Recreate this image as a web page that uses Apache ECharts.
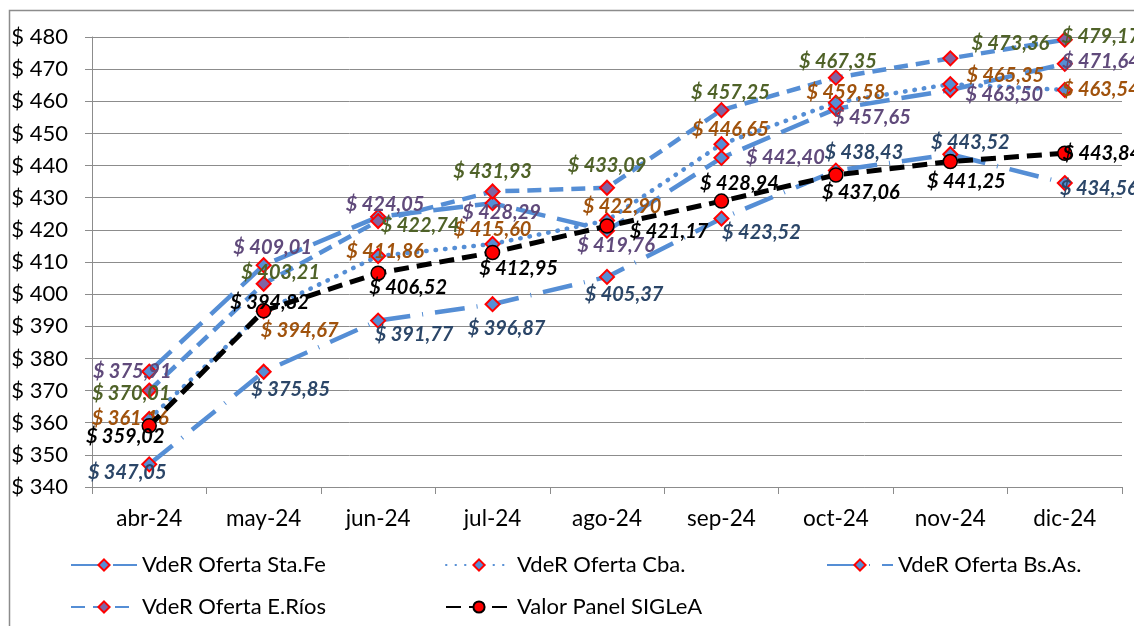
<!DOCTYPE html>
<html>
<head>
<meta charset="utf-8">
<script src="https://cdn.jsdelivr.net/npm/echarts@6/dist/echarts.min.js"></script>
<style>
    html, body { margin: 0; padding: 0; background: #fff; }
    #container { width: 1134px; height: 626px; }
</style>
</head>
<body>
<div id="container"></div>
<script>
// datos
var months = ['abr-24', 'may-24', 'jun-24', 'jul-24', 'ago-24', 'sep-24', 'oct-24', 'nov-24', 'dic-24']
var yTicks = [340, 480, 10]

var staFe = [375.91, 409.01, 424.05, 428.29, 419.76, 442.40, 457.65, 463.50, 471.64]
var cba = [361.16, 394.67, 411.86, 415.60, 422.90, 446.65, 459.58, 465.35, 463.54]
var bsAs = [347.05, 375.85, 391.77, 396.87, 405.37, 423.52, 438.43, 443.52, 434.56]
var eRios = [370.01, 403.21, 422.74, 431.93, 433.09, 457.25, 467.35, 473.36, 479.17]
var siglea = [359.02, 394.82, 406.52, 412.95, 421.17, 428.94, 437.06, 441.25, 443.84]

// donde va cada etiqueta (centro, relativo al punto)
var offStaFe = [[-17, 0], [9, -18], [7, -12], [9, 9], [9, 15], [64, 0], [36, 9], [54, 5], [36, -2]]
var offCba = [[-19, 0], [36, 19], [7, -4], [0, -14], [15, -14], [9, -15], [10, -10], [55, -9], [36, 0]]
var offBsAs = [[-22, 8], [27, 18], [36, 14], [14, 24], [17, 18], [40, 14], [28, -18], [20, -12], [34, 5]]
var offERios = [[-18, 3], [17, -11], [42, 4], [0, -20], [0, -22], [9, -18], [2, -16], [60, -15], [36, -3]]
var offSiglea = [[-24, 11], [6, -8], [30, 14], [26, 16], [62, 5], [18, -18], [25, 18], [16, 20], [37, 0]]

const fmtPeso = function (v) {
    return '$ ' + Number(v).toFixed(2).replace('.', ',')
}

const makeSeries = function (name, values, offsets, cfg) {
    var data = []
    for (let i = 0; i < values.length; i++) {
        data.push({
            value: values[i],
            label: { offset: offsets[i] },
        })
    }
    return {
        name: name,
        type: 'line',
        data: data,
        symbol: cfg.symbol || 'diamond',
        symbolSize: cfg.symbolSize || 14,
        z: cfg.z || 2,
        lineStyle: {
            color: cfg.lineColor || '#558ed5',
            width: cfg.width || 4.5,
            type: cfg.dash,
            cap: cfg.cap || 'butt',
        },
        itemStyle: {
            color: cfg.fill || '#558ed5',
            borderColor: cfg.border || '#ff0000',
            borderWidth: cfg.borderWidth || 2,
        },
        label: {
            show: true,
            position: 'inside',
            align: 'center',
            verticalAlign: 'middle',
            formatter: function (p) { return fmtPeso(p.value) },
            color: cfg.labelColor,
            fontFamily: 'Lato',
            fontStyle: 'italic',
            fontWeight: 'bold',
            fontSize: 20,
        },
        emphasis: { disabled: true },
    }
}

const chartMain = function () {
    var dom = document.getElementById('container')
    var myChart = echarts.init(dom)

    var legendText = { fontFamily: 'Lato', fontSize: 22, color: '#000' }
    var legendBase = function (name, left, top) {
        return {
            data: [name],
            left: left,
            top: top,
            padding: 0,
            itemWidth: 66,
            itemHeight: 14,
            textStyle: legendText,
            selectedMode: false,
        }
    }

    var option = {
        animation: false,
        backgroundColor: '#fff',
        graphic: [{
            type: 'rect',
            shape: { x: 9.5, y: 10.5, width: 2000, height: 2000 },
            style: { fill: 'none', stroke: '#8c8c8c', lineWidth: 1.5 },
            silent: true,
        }],
        grid: { left: 92, right: 12, top: 37, bottom: 139 },
        legend: [
            legendBase('VdeR Oferta Sta.Fe', 70, 554),
            legendBase('VdeR Oferta Cba.', 445, 554),
            legendBase('VdeR Oferta Bs.As.', 826, 554),
            legendBase('VdeR Oferta E.Ríos', 70, 596),
            legendBase('Valor Panel SIGLeA', 445, 596),
        ],
        xAxis: {
            type: 'category',
            data: months,
            boundaryGap: true,
            axisLine: { lineStyle: { color: '#8c8c8c', width: 1 } },
            axisTick: { show: true, length: 7, lineStyle: { color: '#8c8c8c' } },
            axisLabel: { color: '#000', fontFamily: 'Lato', fontSize: 22.5, margin: 20 },
            splitLine: { show: false },
        },
        yAxis: {
            type: 'value',
            min: yTicks[0],
            max: yTicks[1],
            interval: yTicks[2],
            axisLine: { show: true, lineStyle: { color: '#8c8c8c', width: 1 } },
            axisTick: { show: true, length: 7, lineStyle: { color: '#8c8c8c' } },
            axisLabel: {
                color: '#000', fontFamily: 'Lato', fontSize: 22, margin: 24,
                formatter: function (v) { return '$ ' + v },
            },
            splitLine: { lineStyle: { color: '#8c8c8c', width: 1 } },
        },
        series: [
            makeSeries('VdeR Oferta Sta.Fe', staFe, offStaFe, {
                dash: [30, 12], labelColor: '#604a7b',
            }),
            makeSeries('VdeR Oferta Cba.', cba, offCba, {
                dash: [0.5, 9], cap: 'round', labelColor: '#a0520c',
            }),
            makeSeries('VdeR Oferta Bs.As.', bsAs, offBsAs, {
                dash: [30, 12, 1, 12], labelColor: '#2b4668',
            }),
            makeSeries('VdeR Oferta E.Ríos', eRios, offERios, {
                dash: [14, 8], fill: '#8064a2', labelColor: '#4f6228',
            }),
            makeSeries('Valor Panel SIGLeA', siglea, offSiglea, {
                dash: [15, 8], lineColor: '#000', width: 5, symbol: 'circle',
                symbolSize: 14, fill: '#ff0000', border: '#000', borderWidth: 1.5,
                labelColor: '#000', z: 3,
            }),
        ],
    }

    myChart.setOption(option, true)
}

chartMain()
</script>
</body>
</html>
